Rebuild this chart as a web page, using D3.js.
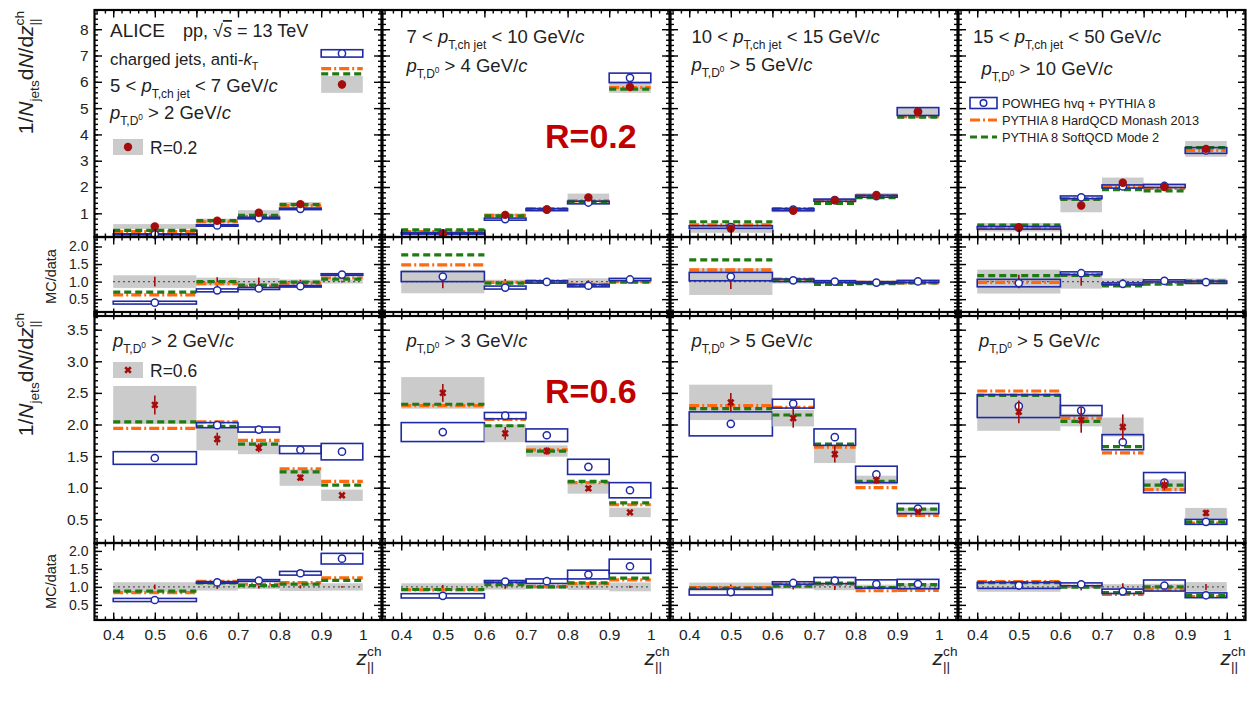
<!DOCTYPE html>
<html>
<head>
<meta charset="utf-8" />
<title>D0-tagged jets zch</title>
<script src="https://d3js.org/d3.v7.min.js"></script>
<style>
body { margin: 0; background: #fff; }
text { font-family: "Liberation Sans", Arial, Helvetica, sans-serif; fill: #222; }
</style>
</head>
<body>
<script>

// ---- data ----
var binEdges = [0.4, 0.6, 0.7, 0.8, 0.9, 1.0];
var binCenters = [0.5, 0.65, 0.75, 0.85, 0.95];
var jetPtRanges = [["5", "7"], ["7", "10"], ["10", "15"], ["15", "50"]];
var d0PtCut02 = ["2", "4", "5", "10"];
var d0PtCut06 = ["2", "3", "5", "5"];
var xTickLabels = [0.4, 0.5, 0.6, 0.7, 0.8, 0.9, 1.0];
var yTicks02 = [1, 2, 3, 4, 5, 6, 7, 8];
var yTicks06 = [0.5, 1.0, 1.5, 2.0, 2.5, 3.0, 3.5];
var yTicksRatio = [0.5, 1.0, 1.5, 2.0];
var modelNames = ["POWHEG hvq + PYTHIA 8", "PYTHIA 8 HardQCD Monash 2013", "PYTHIA 8 SoftQCD Mode 2"];

// R = 0.2, one row per jet pT interval
var data02 = [[0.50, 0.72, 1.02, 1.35, 5.90], [0.21, 0.94, 1.15, 1.60, 5.80], [0.42, 1.10, 1.50, 1.70, 4.85], [0.47, 1.30, 2.16, 2.00, 3.45]];
var stat02 = [[0.07, 0.09, 0.12, 0.07, 0.15], [0.04, 0.07, 0.05, 0.06, 0.10], [0.09, 0.05, 0.05, 0.05, 0.08], [0.09, 0.15, 0.15, 0.07, 0.10]];
var sys02 = [[0.09, 0.08, 0.10, 0.08, 0.32], [0.07, 0.05, 0.05, 0.15, 0.22], [0.16, 0.06, 0.07, 0.07, 0.15], [0.16, 0.26, 0.20, 0.08, 0.30]];
var powheg02 = [[0.20, 0.54, 0.82, 1.17, 7.08], [0.24, 0.78, 1.14, 1.41, 6.15], [0.48, 1.14, 1.50, 1.65, 4.87], [0.45, 1.61, 2.02, 2.04, 3.39]];
var powhegSys02 = [[0.02, 0.03, 0.03, 0.03, 0.14], [0.03, 0.04, 0.04, 0.05, 0.18], [0.05, 0.04, 0.04, 0.04, 0.15], [0.05, 0.05, 0.06, 0.06, 0.11]];
var monash02 = [[0.31, 0.68, 0.88, 1.29, 6.50], [0.31, 0.92, 1.17, 1.47, 5.78], [0.56, 1.18, 1.47, 1.66, 4.68], [0.46, 1.56, 2.00, 1.95, 3.39]];
var mode2_02 = [[0.35, 0.72, 0.92, 1.33, 6.30], [0.37, 0.90, 1.15, 1.44, 5.72], [0.68, 1.15, 1.38, 1.60, 4.66], [0.55, 1.53, 1.90, 1.85, 3.50]];

// R = 0.6
var data06 = [[2.31, 1.77, 1.63, 1.16, 0.88], [2.50, 1.86, 1.58, 0.99, 0.61], [2.35, 2.10, 1.53, 1.12, 0.62], [2.20, 2.07, 1.96, 1.04, 0.60]];
var stat06 = [[0.15, 0.10, 0.07, 0.05, 0.02], [0.14, 0.10, 0.06, 0.04, 0.02], [0.15, 0.15, 0.13, 0.06, 0.03], [0.18, 0.20, 0.20, 0.08, 0.05]];
var sys06 = [[0.30, 0.18, 0.10, 0.13, 0.09], [0.25, 0.14, 0.09, 0.085, 0.075], [0.28, 0.13, 0.14, 0.07, 0.06], [0.30, 0.10, 0.15, 0.09, 0.08]];
var powheg06 = [[1.47, 1.99, 1.92, 1.60, 1.57], [1.88, 2.14, 1.83, 1.33, 0.96], [2.01, 2.33, 1.80, 1.21, 0.67], [2.29, 2.22, 1.72, 1.08, 0.46]];
var powhegSys06 = [[0.10, 0.04, 0.04, 0.06, 0.13], [0.15, 0.05, 0.10, 0.12, 0.12], [0.19, 0.07, 0.13, 0.13, 0.08], [0.18, 0.08, 0.12, 0.16, 0.04]];
var monash06 = [[1.94, 2.04, 1.75, 1.30, 1.10], [2.30, 2.08, 1.60, 1.08, 0.73], [2.30, 2.27, 1.64, 1.00, 0.56], [2.53, 2.10, 1.55, 0.97, 0.44]];
var mode2_06 = [[2.04, 1.97, 1.69, 1.25, 1.04], [2.32, 1.98, 1.58, 1.10, 0.76], [2.25, 2.15, 1.69, 1.10, 0.66], [2.46, 2.05, 1.65, 1.04, 0.46]];

// ---- layout ----
var colX = [94.5, 382.5, 670.5, 958.5], colW = 287;
var rows = [
	{ top: 10, mid: 237, bot: 316, dom: [0.1, 8.73], rdom: [0.02, 2.27], major: yTicks02, minorStep: 0.2, fmt: d3.format("d"),
	  data: data02, stat: stat02, sys: sys02, pow: powheg02, powSys: powhegSys02, mon: monash02, m2: mode2_02, marker: "dot" },
	{ top: 312, mid: 543, bot: 620, dom: [0.125, 3.78], rdom: [0.08, 2.22], major: yTicks06, minorStep: 0.1, fmt: d3.format(".1f"),
	  data: data06, stat: stat06, sys: sys06, pow: powheg06, powSys: powhegSys06, mon: monash06, m2: mode2_06, marker: "cross" }
];

var cGrey = "#cbcbcb", cBlue = "#1f2aa6", cOrange = "#ff6a10", cGreen = "#1f7a12", cRed = "#a50d0d";
var dashOrange = "10,3,2,3", dashGreen = "7,4";

var svg = d3.select("body").append("svg")
	.attr("width", 1259)
	.attr("height", 705);

// text with italic / sub / superscript parts
function rich(sel, x, y, parts, size, anchor) {
	var t = sel.append("text")
		.attr("x", x).attr("y", y)
		.attr("font-size", size)
		.attr("text-anchor", anchor || "start");
	var cur = 0, last = null;
	parts.forEach(function(p) {
		var s = p.sh || 0;
		var ts = t.append("tspan")
			.attr("dy", ((s - cur) * size).toFixed(2))
			.attr("font-size", (p.sc || 1) * size)
			.text(p.t);
		if (p.it) ts.attr("font-style", "italic");
		if (p.ov) ts.attr("text-decoration", "overline");
		if (p.back && last) ts.attr("dx", -last.node().getComputedTextLength());
		cur = s;
		last = ts;
	});
	return t;
}

function ptD0(cut) {
	return [{ t: "p", it: 1 }, { t: "T,D", sh: 0.3, sc: 0.65 }, { t: "0", sh: 0.08, sc: 0.45 }, { t: " > " + cut + " GeV/" }, { t: "c", it: 1 }];
}
function ptJet(r) {
	return [{ t: r[0] + " < " }, { t: "p", it: 1 }, { t: "T,ch jet", sh: 0.3, sc: 0.65 }, { t: " < " + r[1] + " GeV/" }, { t: "c", it: 1 }];
}
var zTitle = [{ t: "z", it: 1 }, { t: "ch", sh: -0.45, sc: 0.65 }, { t: "||", sh: 0.3, sc: 0.65, back: 1 }];

function marker(g, cx, cy, type) {
	if (type === "dot") {
		g.append("circle").attr("cx", cx).attr("cy", cy).attr("r", 4.2).attr("fill", cRed);
	} else {
		g.append("path")
			.attr("d", d3.symbol().type(d3.symbolCross).size(34)())
			.attr("transform", "translate(" + cx + "," + cy + ") rotate(45)")
			.attr("fill", cRed);
	}
}

function hline(g, x0, x1, yy, color, dash) {
	g.append("line").attr("x1", x0).attr("x2", x1).attr("y1", yy).attr("y2", yy)
		.attr("stroke", color).attr("stroke-width", 3.2).attr("stroke-dasharray", dash);
}

// frame with inward ticks on all four sides
function frame(g, x, y, yMajor, yMinorStep, showX, showY, fmt, fontY) {
	var x0 = x.range()[0], x1 = x.range()[1], yb = y.range()[0], yt = y.range()[1];
	var dom = y.domain();
	var yMinor = d3.range(Math.ceil(dom[0] / yMinorStep) * yMinorStep, dom[1], yMinorStep);
	var xMinor = d3.range(0.36, 1.045, 0.02);

	function ax(gen, tr, vals, size, labels, f) {
		var a = g.append("g").attr("transform", tr)
			.call(gen.tickValues(vals).tickSize(-size).tickPadding(labels ? 6 : 0)
				.tickFormat(labels ? f : ""));
		a.select(".domain").remove();
		a.selectAll("line").attr("stroke", "#000").attr("stroke-width", 1.4);
		return a;
	}
	ax(d3.axisBottom(x), "translate(0," + yb + ")", xMinor, 3.5, false);
	ax(d3.axisTop(x), "translate(0," + yt + ")", xMinor, 3.5, false);
	var xb = ax(d3.axisBottom(x), "translate(0," + yb + ")", xTickLabels, 7.5, showX, d3.format("~g"));
	ax(d3.axisTop(x), "translate(0," + yt + ")", xTickLabels, 7.5, false);
	ax(d3.axisLeft(y), "translate(" + x0 + ",0)", yMinor, 3.5, false);
	ax(d3.axisRight(y), "translate(" + x1 + ",0)", yMinor, 3.5, false);
	var yl = ax(d3.axisLeft(y), "translate(" + x0 + ",0)", yMajor, 7.5, showY, fmt);
	ax(d3.axisRight(y), "translate(" + x1 + ",0)", yMajor, 7.5, false);

	xb.selectAll("text").attr("font-size", 15.5).attr("fill", "#222").attr("font-family", null).attr("dy", "0.9em");
	yl.selectAll("text").attr("font-size", fontY).attr("fill", "#222").attr("font-family", null);

	g.append("rect").attr("x", x0).attr("y", yt).attr("width", x1 - x0).attr("height", yb - yt)
		.attr("fill", "none").attr("stroke", "#000").attr("stroke-width", 2.2);
}

rows.forEach(function(row, ri) {
	colX.forEach(function(cx, ci) {
		var x = d3.scaleLinear().domain([0.355, 1.045]).range([cx, cx + colW]);
		var y = d3.scaleLinear().domain(row.dom).range([row.mid, row.top]);
		var yr = d3.scaleLinear().domain(row.rdom).range([row.bot, row.mid]);
		var g = svg.append("g");
		var gm = g.append("g"), gr = g.append("g");

		var d = row.data[ci], st = row.stat[ci], sy = row.sys[ci];
		var p = row.pow[ci], ps = row.powSys[ci], mo = row.mon[ci], m2 = row.m2[ci];

		binCenters.forEach(function(c, i) {
			var lo = x(binEdges[i]), hi = x(binEdges[i + 1]);
			// main pad
			gm.append("rect").attr("x", lo).attr("width", hi - lo)
				.attr("y", y(d[i] + sy[i])).attr("height", y(d[i] - sy[i]) - y(d[i] + sy[i]))
				.attr("fill", cGrey);
			hline(gm, lo, hi, y(mo[i]), cOrange, dashOrange);
			hline(gm, lo, hi, y(m2[i]), cGreen, dashGreen);
			gm.append("rect").attr("x", lo).attr("width", hi - lo)
				.attr("y", y(p[i] + ps[i])).attr("height", y(p[i] - ps[i]) - y(p[i] + ps[i]))
				.attr("fill", "none").attr("stroke", cBlue).attr("stroke-width", 1.6);
			gm.append("circle").attr("cx", x(c)).attr("cy", y(p[i])).attr("r", 3.6)
				.attr("fill", "#fff").attr("stroke", cBlue).attr("stroke-width", 1.5);
			gm.append("line").attr("x1", x(c)).attr("x2", x(c))
				.attr("y1", y(d[i] - st[i])).attr("y2", y(d[i] + st[i]))
				.attr("stroke", cRed).attr("stroke-width", 1.6);
			marker(gm, x(c), y(d[i]), row.marker);

			// ratio pad
			gr.append("rect").attr("x", lo).attr("width", hi - lo)
				.attr("y", yr(1 + sy[i] / d[i])).attr("height", yr(1 - sy[i] / d[i]) - yr(1 + sy[i] / d[i]))
				.attr("fill", cGrey);
		});
		gr.append("line").attr("x1", x(0.4)).attr("x2", x(1.0)).attr("y1", yr(1)).attr("y2", yr(1))
			.attr("stroke", "#333").attr("stroke-width", 1.3).attr("stroke-dasharray", "1.5,3.5");
		binCenters.forEach(function(c, i) {
			var lo = x(binEdges[i]), hi = x(binEdges[i + 1]);
			gr.append("line").attr("x1", x(c)).attr("x2", x(c))
				.attr("y1", yr(1 - st[i] / d[i])).attr("y2", yr(1 + st[i] / d[i]))
				.attr("stroke", cRed).attr("stroke-width", 1.6);
			hline(gr, lo, hi, yr(mo[i] / d[i]), cOrange, dashOrange);
			hline(gr, lo, hi, yr(m2[i] / d[i]), cGreen, dashGreen);
			gr.append("rect").attr("x", lo).attr("width", hi - lo)
				.attr("y", yr((p[i] + ps[i]) / d[i])).attr("height", yr((p[i] - ps[i]) / d[i]) - yr((p[i] + ps[i]) / d[i]))
				.attr("fill", "none").attr("stroke", cBlue).attr("stroke-width", 1.6);
			gr.append("circle").attr("cx", x(c)).attr("cy", yr(p[i] / d[i])).attr("r", 3.6)
				.attr("fill", "#fff").attr("stroke", cBlue).attr("stroke-width", 1.5);
		});

		frame(gm, x, y, row.major, row.minorStep, false, ci === 0, row.fmt, 15.5);
		frame(gr, x, yr, yTicksRatio, 0.1, ri === 1, ci === 0, d3.format(".1f"), 14);

		if (ri === 1) rich(svg, cx + colW, 665, zTitle, 21, "end");
	});

	// axis titles
	rich(svg, 0, 0, [{ t: "1/" }, { t: "N", it: 1 }, { t: "jets", sh: 0.3, sc: 0.65 }, { t: "d" }, { t: "N", it: 1 }, { t: "/d" }].concat(zTitle), 21, "end")
		.attr("transform", "translate(33," + (row.top + 1) + ") rotate(-90)");
	svg.append("text").attr("font-size", 14.5).attr("text-anchor", "middle")
		.attr("transform", "translate(56," + ((row.mid + row.bot) / 2) + ") rotate(-90)")
		.text("MC/data");
});

// ---- labels R = 0.2 ----
svg.append("text").attr("x", 110).attr("y", 37).attr("font-size", 19).text("ALICE");
rich(svg, 183, 37, [{ t: "pp, " }, { t: "\u221A" }, { t: "s", it: 1, ov: 1 }, { t: " = 13 TeV" }], 18);
rich(svg, 110, 65, [{ t: "charged jets, anti-" }, { t: "k", it: 1 }, { t: "T", sh: 0.3, sc: 0.65 }], 16.8);

var jetTextX = [15.5, 24, 21, 14.5], jetTextY = [92, 43, 43, 43];
var d0TextX = [15.5, 24, 21, 23], d0TextY = [119, 72, 71, 75];
colX.forEach(function(cx, ci) {
	rich(svg, cx + jetTextX[ci], jetTextY[ci], ptJet(jetPtRanges[ci]), 18.5);
	rich(svg, cx + d0TextX[ci], d0TextY[ci], ptD0(d0PtCut02[ci]), 18.5);
	rich(svg, cx + [18.5, 24, 21, 20.5][ci], 347, ptD0(d0PtCut06[ci]), 18.5);
});

// data legends
svg.append("rect").attr("x", 113).attr("y", 139).attr("width", 30).attr("height", 16).attr("fill", cGrey);
marker(svg, 128, 147, "dot");
svg.append("text").attr("x", 150).attr("y", 153.5).attr("font-size", 17.5).text("R=0.2");
svg.append("rect").attr("x", 113).attr("y", 362).attr("width", 30).attr("height", 16).attr("fill", cGrey);
marker(svg, 128, 370, "cross");
svg.append("text").attr("x", 150).attr("y", 376.5).attr("font-size", 17.5).text("R=0.6");

svg.append("text").attr("x", 545).attr("y", 148).attr("font-size", 34).attr("font-weight", "bold")
	.style("fill", "#c00000").text("R=0.2");
svg.append("text").attr("x", 545).attr("y", 403).attr("font-size", 34).attr("font-weight", "bold")
	.style("fill", "#c00000").text("R=0.6");

// model legend
var lg = svg.append("g").attr("transform", "translate(970,103)");
lg.append("rect").attr("x", 0).attr("y", -5.5).attr("width", 27).attr("height", 11)
	.attr("fill", "none").attr("stroke", cBlue).attr("stroke-width", 1.6);
lg.append("circle").attr("cx", 13.5).attr("cy", 0).attr("r", 3.3).attr("fill", "#fff").attr("stroke", cBlue).attr("stroke-width", 1.5);
hline(lg, 0, 27, 17, cOrange, dashOrange);
hline(lg, 0, 27, 34, cGreen, dashGreen);
modelNames.forEach(function(n, i) {
	lg.append("text").attr("x", 32).attr("y", 4.5 + 17 * i).attr("font-size", 12.8).text(n);
});

</script>
</body>
</html>
